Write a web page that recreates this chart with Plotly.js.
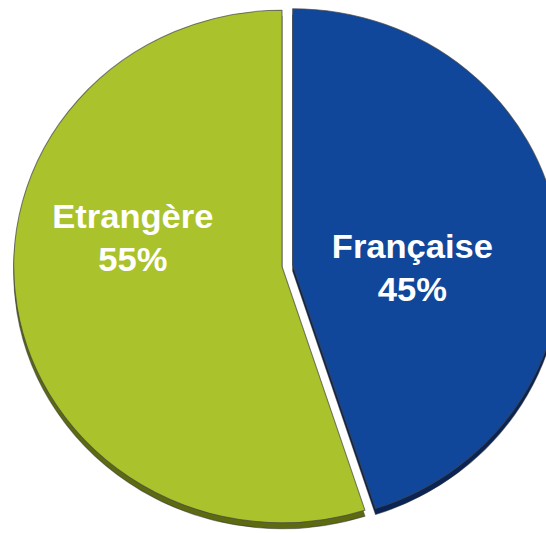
<!DOCTYPE html>
<html>
<head>
<meta charset="utf-8">
<script src="https://cdn.plot.ly/plotly-3.0.1.min.js"></script>
<style>
  html, body { margin: 0; padding: 0; overflow: hidden; background: #ffffff; width: 546px; height: 533px; }
  #chart { position: absolute; left: 3px; top: 0px; transform: scaleX(1.047); transform-origin: 0 0; }
</style>
</head>
<body>
<div id="chart"></div>
<script>
// Data
const labels = ["Française", "Etrangère"];
const values = [45, 55];
const faceColors = ["#10479b", "#aac22b"];
const rimColors = ["#0a2456", "#5e6a12"];
const pulls = [0.04, 0];

const total = values.reduce((a, b) => a + b, 0);
const labelTexts = labels.map((l, i) => "<b>" + l + "<br>" + Math.round(100 * values[i] / total) + "%</b>");

const W = 533, H = 539, D = 6;

const rim = {
  type: "pie",
  labels: labels,
  values: values,
  sort: false,
  direction: "clockwise",
  rotation: 0,
  pull: pulls,
  marker: { colors: rimColors, line: { color: "rgba(40,40,40,0.5)", width: 1 } },
  textinfo: "none",
  hoverinfo: "skip",
  showlegend: false,
  domain: { x: [0, 1], y: [0, (H - D) / H] }
};

const face = {
  type: "pie",
  labels: labels,
  values: values,
  sort: false,
  direction: "clockwise",
  rotation: 0,
  pull: pulls,
  marker: { colors: faceColors, line: { color: "rgba(70,70,70,0.7)", width: 1 } },
  textinfo: "none",
  hoverinfo: "label+percent",
  showlegend: false,
  domain: { x: [0, 1], y: [D / H, 1] }
};

// label anchors (paper coordinates) for the in-slice labels
const labelAnchors = [[0.733, 0.503], [0.233, 0.558]];

const layout = {
  width: W,
  height: H,
  margin: { l: 0, r: 0, t: 0, b: 0 },
  paper_bgcolor: "rgba(0,0,0,0)",
  plot_bgcolor: "rgba(0,0,0,0)",
  showlegend: false,
  annotations: labelTexts.map((t, i) => ({
    text: t,
    xref: "paper", yref: "paper",
    x: labelAnchors[i][0], y: labelAnchors[i][1],
    xanchor: "center", yanchor: "middle",
    showarrow: false,
    align: "center",
    font: { family: "Liberation Sans, Arial, sans-serif", size: 33, color: "#ffffff" }
  }))
};

Plotly.newPlot("chart", [rim, face], layout, { displayModeBar: false, staticPlot: true });
</script>
</body>
</html>
